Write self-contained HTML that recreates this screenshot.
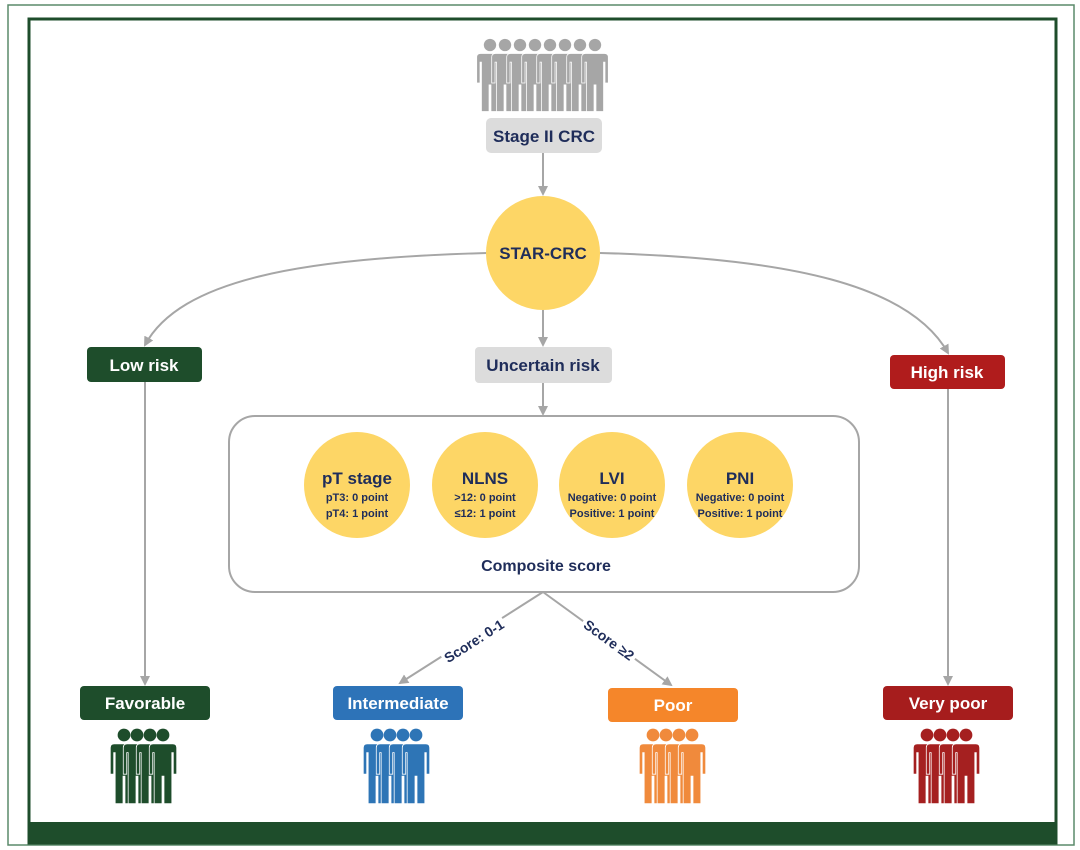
<!DOCTYPE html>
<html><head><meta charset="utf-8"><style>
html,body{margin:0;padding:0;background:#fff}
svg{display:block}
text{font-family:"Liberation Sans",sans-serif;font-weight:bold}
</style></head><body>
<svg width="1080" height="850" viewBox="0 0 1080 850" xmlns="http://www.w3.org/2000/svg">
<defs>
<marker id="ar" markerWidth="10" markerHeight="10" refX="8" refY="5" orient="auto" markerUnits="userSpaceOnUse">
<path d="M0,0 L10,5 L0,10 Z" fill="#a6a6a6"/>
</marker>
<g id="p">
<circle cx="0" cy="0" r="6.5"/>
<path d="M-10,9 H10 Q14,9 14,13 V40 H10.5 V18 H9 V70 H1 V42 H-1 V70 H-9 V18 H-10.5 V40 H-14 V13 Q-14,9 -10,9 Z" stroke="#fff" stroke-width="0.8"/>
</g>
</defs>
<rect x="8" y="5" width="1066" height="840" fill="none" stroke="#5a8a6a" stroke-width="1.5"/>
<rect x="29" y="19" width="1027" height="824" fill="none" stroke="#1e4d2b" stroke-width="3"/>
<rect x="28" y="822" width="1029" height="21" fill="#1e4d2b"/>

<g fill="#a6a6a6">
<use href="#p" transform="translate(490,45) scale(0.95)"/>
<use href="#p" transform="translate(505,45) scale(0.95)"/>
<use href="#p" transform="translate(520,45) scale(0.95)"/>
<use href="#p" transform="translate(535,45) scale(0.95)"/>
<use href="#p" transform="translate(550,45) scale(0.95)"/>
<use href="#p" transform="translate(565,45) scale(0.95)"/>
<use href="#p" transform="translate(580,45) scale(0.95)"/>
<use href="#p" transform="translate(595,45) scale(0.95)"/>
</g>

<g stroke="#a6a6a6" stroke-width="2" fill="none">
<line x1="543" y1="153" x2="543" y2="194" marker-end="url(#ar)"/>
<line x1="543" y1="310" x2="543" y2="345" marker-end="url(#ar)"/>
<line x1="543" y1="383" x2="543" y2="414" marker-end="url(#ar)"/>
<path d="M487,253 C300,258 180,280 145,345" marker-end="url(#ar)"/>
<path d="M600,253 C790,258 910,285 948,353" marker-end="url(#ar)"/>
<line x1="145" y1="382" x2="145" y2="684" marker-end="url(#ar)"/>
<line x1="948" y1="389" x2="948" y2="684" marker-end="url(#ar)"/>
<line x1="543" y1="592" x2="400" y2="683" marker-end="url(#ar)"/>
<line x1="543" y1="592" x2="671" y2="685" marker-end="url(#ar)"/>
</g>

<rect x="486" y="118" width="116" height="35" rx="5" fill="#dcdcdc"/>
<text x="544" y="142" font-size="17" fill="#1f2d5a" text-anchor="middle">Stage II CRC</text>
<circle cx="543" cy="253" r="57" fill="#fdd666"/>
<text x="543" y="259" font-size="17" fill="#1f2d5a" text-anchor="middle">STAR-CRC</text>

<rect x="87" y="347" width="115" height="35" rx="4" fill="#1e4d2b"/>
<text x="144" y="371" font-size="17" fill="#fff" text-anchor="middle">Low risk</text>
<rect x="475" y="347" width="137" height="36" rx="4" fill="#dcdcdc"/>
<text x="543" y="371" font-size="17" fill="#1f2d5a" text-anchor="middle">Uncertain risk</text>
<rect x="890" y="355" width="115" height="34" rx="4" fill="#b01c1c"/>
<text x="947" y="378" font-size="17" fill="#fff" text-anchor="middle">High risk</text>

<rect x="229" y="416" width="630" height="176" rx="26" fill="#fff" stroke="#a6a6a6" stroke-width="2"/>
<g fill="#fdd666">
<circle cx="357" cy="485" r="53"/><circle cx="485" cy="485" r="53"/>
<circle cx="612" cy="485" r="53"/><circle cx="740" cy="485" r="53"/>
</g>
<g fill="#1f2d5a" text-anchor="middle">
<text x="357" y="484" font-size="17">pT stage</text>
<text x="357" y="501" font-size="11">pT3: 0 point</text>
<text x="357" y="517" font-size="11">pT4: 1 point</text>
<text x="485" y="484" font-size="17">NLNS</text>
<text x="485" y="501" font-size="11">&gt;12: 0 point</text>
<text x="485" y="517" font-size="11">≤12: 1 point</text>
<text x="612" y="484" font-size="17">LVI</text>
<text x="612" y="501" font-size="11">Negative: 0 point</text>
<text x="612" y="517" font-size="11">Positive: 1 point</text>
<text x="740" y="484" font-size="17">PNI</text>
<text x="740" y="501" font-size="11">Negative: 0 point</text>
<text x="740" y="517" font-size="11">Positive: 1 point</text>
<text x="546" y="571" font-size="16">Composite  score</text>
</g>

<g transform="translate(474,641) rotate(-32.5)">
<rect x="-36" y="-10" width="72" height="20" fill="#fff"/>
<text x="0" y="5" font-size="14" fill="#1f2d5a" text-anchor="middle">Score: 0-1</text>
</g>
<g transform="translate(609,640) rotate(36)">
<rect x="-32" y="-10" width="64" height="20" fill="#fff"/>
<text x="0" y="5" font-size="14" fill="#1f2d5a" text-anchor="middle">Score ≥2</text>
</g>

<rect x="80" y="686" width="130" height="34" rx="4" fill="#1e4d2b"/>
<text x="145" y="709" font-size="17" fill="#fff" text-anchor="middle">Favorable</text>
<rect x="333" y="686" width="130" height="34" rx="4" fill="#2d73b8"/>
<text x="398" y="709" font-size="17" fill="#fff" text-anchor="middle">Intermediate</text>
<rect x="608" y="688" width="130" height="34" rx="4" fill="#f5862a"/>
<text x="673" y="711" font-size="17" fill="#fff" text-anchor="middle">Poor</text>
<rect x="883" y="686" width="130" height="34" rx="4" fill="#a61d1d"/>
<text x="948" y="709" font-size="17" fill="#fff" text-anchor="middle">Very poor</text>

<g fill="#1e4d2b">
<use href="#p" transform="translate(124,735) scale(0.98)"/><use href="#p" transform="translate(137,735) scale(0.98)"/>
<use href="#p" transform="translate(150,735) scale(0.98)"/><use href="#p" transform="translate(163,735) scale(0.98)"/>
</g>
<g fill="#2e75b6">
<use href="#p" transform="translate(377,735) scale(0.98)"/><use href="#p" transform="translate(390,735) scale(0.98)"/>
<use href="#p" transform="translate(403,735) scale(0.98)"/><use href="#p" transform="translate(416,735) scale(0.98)"/>
</g>
<g fill="#f08a3c">
<use href="#p" transform="translate(653,735) scale(0.98)"/><use href="#p" transform="translate(666,735) scale(0.98)"/>
<use href="#p" transform="translate(679,735) scale(0.98)"/><use href="#p" transform="translate(692,735) scale(0.98)"/>
</g>
<g fill="#a52020">
<use href="#p" transform="translate(927,735) scale(0.98)"/><use href="#p" transform="translate(940,735) scale(0.98)"/>
<use href="#p" transform="translate(953,735) scale(0.98)"/><use href="#p" transform="translate(966,735) scale(0.98)"/>
</g>
</svg>
</body></html>
